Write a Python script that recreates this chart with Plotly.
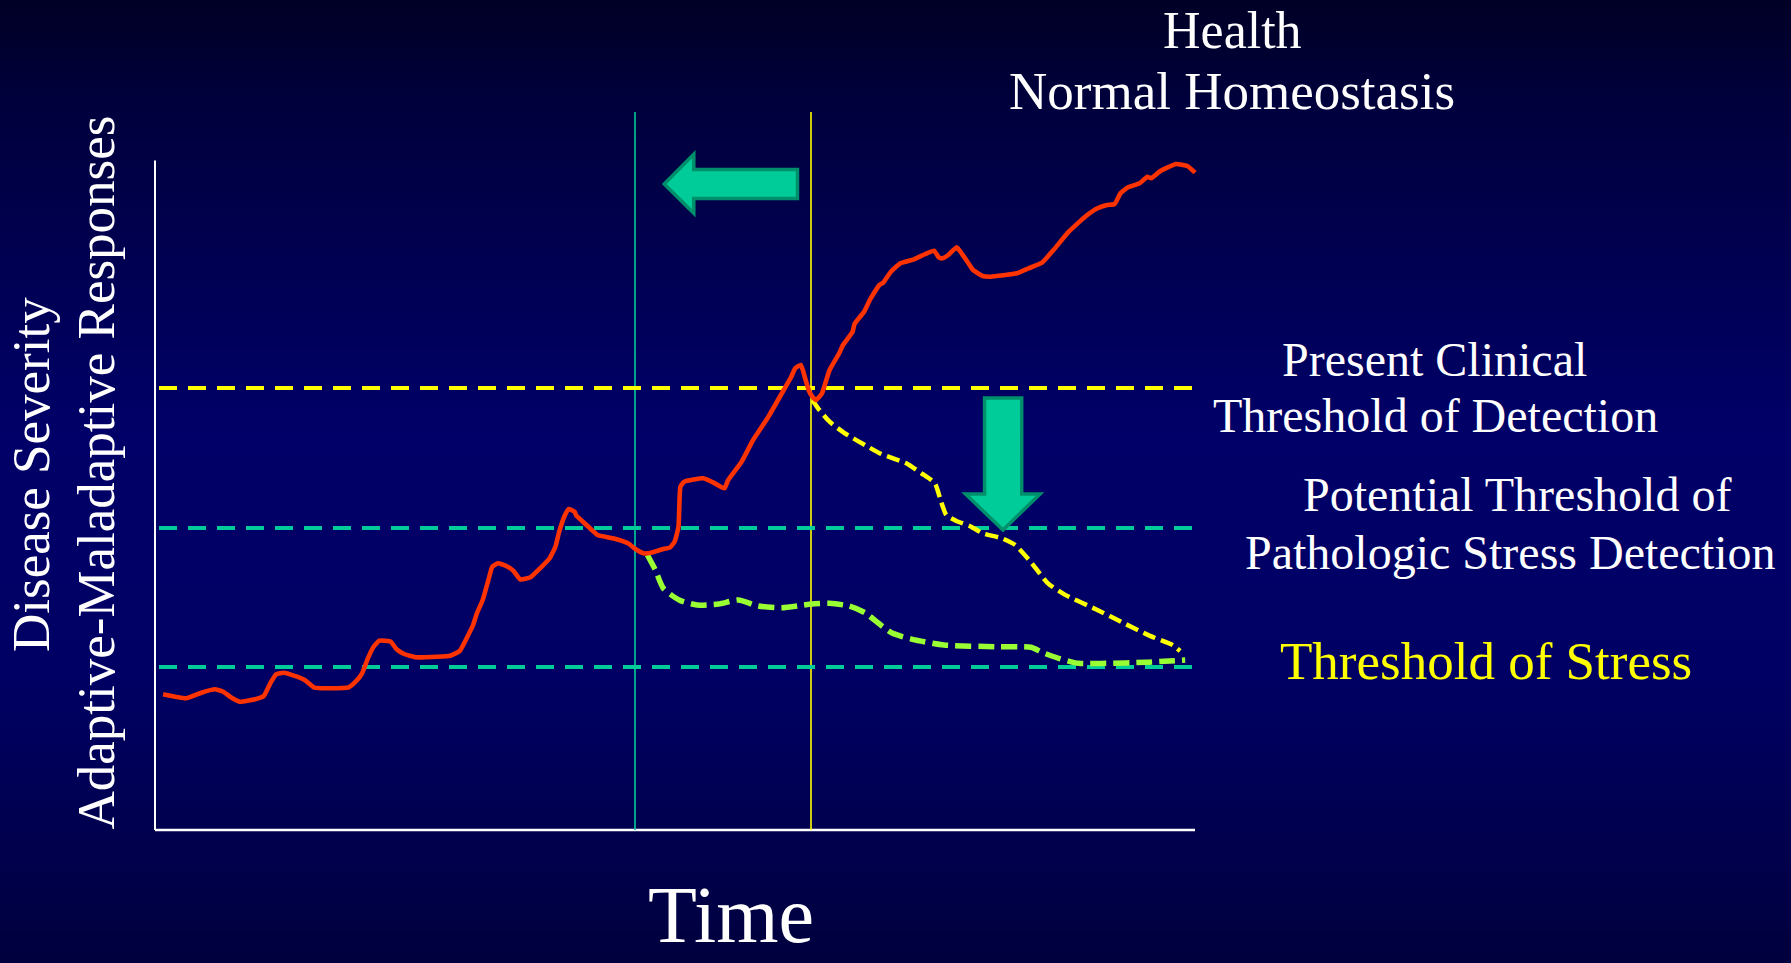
import plotly.graph_objects as go

# ---------------- data (time units on x, severity units on y) ----------------
red_x = [0.81, 3.11, 4.64, 5.98, 6.82, 7.51, 8.47, 10.0, 10.88, 11.53, 12.1, 12.87, 14.21, 14.97,
         15.93, 17.46, 19.37, 20.06, 20.71, 21.29, 21.86, 22.44, 23.58, 24.16, 24.92, 26.07, 28.18,
         29.52, 30.47, 31.24, 31.81, 32.19, 32.77, 33.34, 33.73, 34.3, 35.06, 35.83, 36.52, 37.55,
         38.51, 39.47, 40.04, 40.42, 41.0, 41.38, 41.95, 42.14, 42.91, 43.68, 44.25, 45.78, 47.31,
         48.08, 48.84, 49.61, 50.76, 51.52, 51.96, 52.35, 52.54, 52.92, 54.83, 55.98, 56.94, 57.32,
         58.66, 59.81, 61.34, 62.87, 63.63, 64.02, 64.59, 64.97, 65.36, 65.74, 66.12, 66.7, 67.08,
         67.46, 68.42, 68.8, 69.76, 69.95, 70.91, 71.48, 71.67, 72.44, 72.82, 73.59, 74.54, 75.88,
         77.03, 77.91, 78.37, 78.75, 79.33, 80.17, 80.66, 81.24, 81.81, 82.77, 83.54, 86.21, 87.36,
         88.7, 89.85, 91.38, 93.1, 94.25, 95.21, 95.97, 96.55, 97.31, 98.46, 99.23, 99.61, 100.57,
         102.1, 103.24, 104.01]
red_y = [13.57, 13.17, 13.73, 14.07, 13.83, 13.33, 12.83, 13.07, 13.4, 14.67, 15.57, 15.73, 15.33, 15.0,
         14.23, 14.17, 14.27, 14.83, 15.67, 17.17, 18.33, 18.93, 18.83, 18.07, 17.6, 17.27, 17.33,
         17.43, 17.9, 19.33, 20.5, 21.67, 23.0, 25.0, 26.33, 26.67, 26.43, 25.93, 25.07, 25.27,
         26.17, 27.17, 28.33, 29.83, 31.5, 32.1, 31.83, 31.43, 30.73, 30.0, 29.5, 29.17, 28.67,
         28.07, 27.67, 27.73, 28.07, 28.27, 28.83, 30.33, 34.33, 34.83, 35.17, 34.67, 34.17, 35.0,
         36.83, 39.0, 41.33, 44.0, 45.33, 46.17, 46.5, 45.33, 44.0, 43.33, 43.0, 43.67, 44.83,
         46.0, 47.67, 48.5, 49.83, 50.6, 51.83, 53.0, 53.33, 54.5, 54.73, 55.83, 56.67, 57.07,
         57.6, 57.93, 57.27, 57.17, 57.5, 58.27, 57.67, 56.83, 56.0, 55.4, 55.33, 55.67, 56.17,
         56.73, 58.0, 59.83, 61.4, 62.17, 62.5, 62.6, 63.67, 64.27, 64.67, 65.33, 65.17, 65.93,
         66.6, 66.4, 65.73]

early_x = [65.74, 66.31, 67.46, 68.99, 71.29, 72.63, 75.12, 76.65, 77.99, 78.56, 79.13, 80.09,
           81.62, 82.77, 84.68, 86.02, 87.5, 89.27, 90.98, 94.39, 96.66, 99.5, 101.77, 102.51]
early_y = [43.0, 42.17, 40.83, 39.67, 38.33, 37.6, 36.67, 35.67, 34.67, 33.0, 31.5, 30.93,
           30.33, 29.67, 29.17, 28.5, 26.9, 24.69, 23.54, 21.93, 20.79, 19.41, 18.49, 17.9]

stress_x = [49.24, 50.04, 50.83, 52.41, 54.19, 56.36, 58.34, 60.32, 62.69, 65.46, 67.43, 69.41,
            70.99, 72.57, 73.76, 75.74, 78.9, 84.04, 87.6, 88.79, 90.37, 92.35, 95.11, 99.07, 103.02]
stress_y = [27.5, 26.0, 24.17, 23.0, 22.5, 22.6, 23.0, 22.4, 22.23, 22.57, 22.67, 22.4,
            21.73, 20.5, 19.67, 19.07, 18.5, 18.33, 18.27, 17.73, 17.17, 16.67, 16.67, 16.77, 17.0]

threshold_labels = ["Present Clinical Threshold of Detection",
                    "Potential Threshold of Pathologic Stress Detection",
                    "Threshold of Stress"]
threshold_y = [44.2, 30.2, 16.3]
threshold_x = [0.4, 104.0]

marker_times = [48.0, 65.6]      # vertical time markers
marker_top = 71.8
axis_x_max = 104.0
axis_y_max = 66.95

# ---------------- styling ----------------
FONT = "Liberation Serif, Times New Roman, serif"
RED = "#FF3300"
YEL = "#FFFF00"
TEAL = "#00CC99"
LIME = "#99FF33"

fig = go.Figure()

# background gradient (slide style)
stops = [(0.0, 38), (0.12, 62), (0.45, 104), (0.7, 100), (1.0, 62)]
def blue_at(t):
    for (t0, b0), (t1, b1) in zip(stops[:-1], stops[1:]):
        if t0 <= t <= t1:
            return b0 + (b1 - b0) * (t - t0) / (t1 - t0)
    return stops[-1][1]
n = 96
for i in range(n):
    t = (i + 0.5) / n
    b = int(round(blue_at(t)))
    fig.add_shape(type="rect", xref="paper", yref="paper", x0=0, x1=1,
                  y0=1 - (i + 1) / n - 0.002, y1=1 - i / n + 0.002,
                  fillcolor=f"rgb(0,0,{b})", line_width=0, layer="below")

# axis lines
fig.add_trace(go.Scatter(x=[0, 0], y=[axis_y_max, 0], mode="lines",
                         line=dict(color="white", width=2), hoverinfo="skip", showlegend=False))
fig.add_trace(go.Scatter(x=[0, axis_x_max], y=[0, 0], mode="lines",
                         line=dict(color="white", width=2.5), hoverinfo="skip", showlegend=False))

# vertical markers
for xv, col in zip(marker_times, [TEAL, YEL]):
    fig.add_trace(go.Scatter(x=[xv, xv], y=[0, marker_top], mode="lines",
                             line=dict(color=col, width=1.6), hoverinfo="skip", showlegend=False))

# threshold lines
for yv, col in zip(threshold_y, [YEL, TEAL, TEAL]):
    fig.add_trace(go.Scatter(x=threshold_x, y=[yv, yv], mode="lines",
                             line=dict(color=col, width=4, dash="18px,11px"),
                             hoverinfo="skip", showlegend=False))

# curves
fig.add_trace(go.Scatter(x=stress_x, y=stress_y, mode="lines",
                         line=dict(color=LIME, width=5.5, dash="16px,7px", shape="spline", smoothing=0.6),
                         showlegend=False))
fig.add_trace(go.Scatter(x=early_x, y=early_y, mode="lines",
                         line=dict(color=YEL, width=4.5, dash="13px,6px", shape="spline", smoothing=0.6),
                         showlegend=False))
fig.add_trace(go.Scatter(x=red_x, y=red_y, mode="lines",
                         line=dict(color=RED, width=4.6, shape="spline", smoothing=0.4),
                         showlegend=False))

# arrows
def path(pts):
    return "M " + " L ".join(f"{px},{py}" for px, py in pts) + " Z"
left_arrow = [(50.93, 64.6), (53.88, 67.57), (53.88, 66.05), (64.25, 66.05),
              (64.25, 63.15), (53.88, 63.15), (53.88, 61.67)]
down_arrow = [(82.96, 43.2), (86.67, 43.2), (86.67, 33.6), (88.5, 33.6),
              (84.8, 30.0), (81.05, 33.6), (82.96, 33.6)]
for pts in (left_arrow, down_arrow):
    fig.add_shape(type="path", xref="x", yref="y", path=path(pts),
                  fillcolor=TEAL, line=dict(color="#008F6B", width=3.5), layer="above")

# texts
def txt(x, y, s, size, color="white", angle=0):
    fig.add_annotation(x=x, y=y, xref="x", yref="y", text=s, showarrow=False,
                       xanchor="center", yanchor="middle", textangle=angle,
                       font=dict(family=FONT, size=size, color=color))

txt(107.7, 79.95, "Health", 52)
txt(107.65, 73.86, "Normal Homeostasis", 53)
txt(127.95, 47.06, "Present Clinical", 48)
txt(128.0, 41.46, "Threshold of Detection", 48)
txt(136.2, 33.56, "Potential Threshold of", 48)
txt(135.5, 27.78, "Pathologic Stress Detection", 48)
txt(133.05, 16.93, "Threshold of Stress", 53, color=YEL)
txt(57.6, -8.5, "Time", 80)
txt(-12.4, 35.5, "Disease Severity", 53, angle=-90)
txt(-5.95, 35.7, "Adaptive-Maladaptive Responses", 53, angle=-90)

fig.update_layout(
    width=1791, height=963, autosize=False,
    margin=dict(l=0, r=0, t=0, b=0, pad=0),
    paper_bgcolor="#000044", plot_bgcolor="rgba(0,0,0,0)",
    xaxis=dict(range=[-15.5, 163.6], visible=False, domain=[0, 1], fixedrange=True),
    yaxis=dict(range=[-13.3, 83.0], visible=False, domain=[0, 1], fixedrange=True),
    showlegend=False,
)

fig.write_html("out.html")
